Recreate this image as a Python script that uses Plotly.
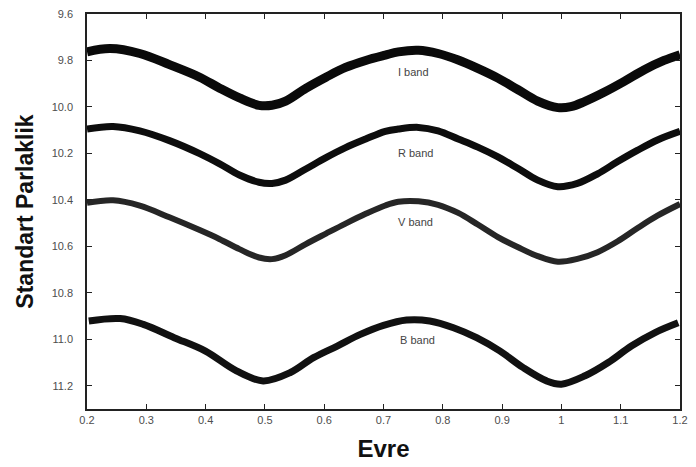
import plotly.graph_objects as go

# Phase-folded light curves (standard magnitudes) in four filters
phase_I = [0.2, 0.239, 0.289, 0.339, 0.39, 0.423, 0.457, 0.49, 0.512, 0.535, 0.569, 0.603, 0.636, 0.67, 0.703,
           0.725, 0.759, 0.792, 0.826, 0.859, 0.893, 0.927, 0.96, 0.994, 1.016, 1.039, 1.072, 1.106, 1.14, 1.173, 1.2]
mag_I = [9.763, 9.749, 9.770, 9.818, 9.872, 9.918, 9.961, 9.993, 9.993, 9.975, 9.920, 9.872, 9.830, 9.800, 9.777,
         9.763, 9.756, 9.770, 9.798, 9.834, 9.876, 9.926, 9.975, 10.003, 9.999, 9.977, 9.937, 9.890, 9.840, 9.800, 9.775]

phase_R = [0.2, 0.244, 0.289, 0.339, 0.39, 0.423, 0.457, 0.49, 0.512, 0.535, 0.569, 0.603, 0.636, 0.67, 0.703,
           0.725, 0.759, 0.792, 0.826, 0.859, 0.893, 0.927, 0.96, 0.994, 1.027, 1.061, 1.095, 1.128, 1.162, 1.2]
mag_R = [10.095, 10.084, 10.103, 10.145, 10.201, 10.244, 10.293, 10.324, 10.329, 10.315, 10.267, 10.218, 10.175,
         10.138, 10.105, 10.095, 10.088, 10.103, 10.138, 10.173, 10.215, 10.265, 10.315, 10.343, 10.329, 10.288,
         10.235, 10.187, 10.142, 10.105]

phase_V = [0.2, 0.244, 0.289, 0.339, 0.39, 0.423, 0.457, 0.49, 0.512, 0.535, 0.569, 0.603, 0.636, 0.67, 0.703,
           0.725, 0.759, 0.792, 0.826, 0.859, 0.893, 0.927, 0.96, 0.994, 1.027, 1.061, 1.095, 1.128, 1.162, 1.2]
mag_V = [10.413, 10.402, 10.425, 10.475, 10.530, 10.568, 10.612, 10.648, 10.655, 10.638, 10.590, 10.545, 10.502,
         10.460, 10.424, 10.408, 10.406, 10.421, 10.456, 10.506, 10.560, 10.604, 10.642, 10.666, 10.654, 10.625,
         10.578, 10.522, 10.468, 10.418]

phase_B = [0.203, 0.256, 0.295, 0.347, 0.399, 0.452, 0.497, 0.543, 0.582, 0.622, 0.661, 0.7, 0.739, 0.778, 0.818,
           0.857, 0.896, 0.935, 0.975, 1.0, 1.04, 1.079, 1.118, 1.158, 1.197]
mag_B = [10.921, 10.911, 10.936, 10.993, 11.05, 11.136, 11.179, 11.143, 11.079, 11.029, 10.979, 10.94, 10.917,
         10.921, 10.95, 10.993, 11.05, 11.121, 11.179, 11.193, 11.157, 11.1, 11.029, 10.971, 10.929]

band_names = ["I band", "R band", "V band", "B band"]
label_phase = [0.750, 0.754, 0.754, 0.757]
label_mag = [9.849, 10.197, 10.494, 11.003]

x_ticks = [0.2, 0.3, 0.4, 0.5, 0.6, 0.7, 0.8, 0.9, 1.0, 1.1, 1.2]
x_tick_text = ["0.2", "0.3", "0.4", "0.5", "0.6", "0.7", "0.8", "0.9", "1", "1.1", "1.2"]
y_ticks = [9.6, 9.8, 10.0, 10.2, 10.4, 10.6, 10.8, 11.0, 11.2]
y_tick_text = ["9.6", "9.8", "10.0", "10.2", "10.4", "10.6", "10.8", "11.0", "11.2"]

series = [(phase_I, mag_I, 9, "#0a0a0a"),
          (phase_R, mag_R, 7, "#0d0d0d"),
          (phase_V, mag_V, 6, "#262626"),
          (phase_B, mag_B, 7, "#111111")]

fig = go.Figure()
for (ph, mg, w, c), name in zip(series, band_names):
    fig.add_trace(go.Scatter(x=ph, y=mg, mode="lines", name=name,
                             line=dict(color=c, width=w, shape="spline", smoothing=1.0)))

for name, lx, ly in zip(band_names, label_phase, label_mag):
    fig.add_annotation(x=lx, y=ly, text=name, showarrow=False,
                       font=dict(family="Liberation Sans, Arial", size=11, color="#444444"))

axis_common = dict(showgrid=False, zeroline=False, showline=True, linecolor="#222222", linewidth=1.5,
                   mirror="ticks", ticks="inside", ticklen=5, tickwidth=1.2, tickcolor="#222222",
                   tickfont=dict(family="Liberation Sans, Arial", size=11, color="#4d4d4d"))

fig.update_xaxes(range=[0.2, 1.2], tickvals=x_ticks, ticktext=x_tick_text,
                 title=dict(text="<b>Evre</b>", standoff=15,
                            font=dict(family="Liberation Sans, Arial", size=24, color="#111111")),
                 **axis_common)
fig.update_yaxes(range=[11.3, 9.6], tickvals=y_ticks, ticktext=y_tick_text, ticklabelstandoff=10,
                 title=dict(text="<b>Standart Parlaklik</b>", standoff=12,
                            font=dict(family="Liberation Sans, Arial", size=23, color="#111111")),
                 **axis_common)

fig.update_layout(width=696, height=467, showlegend=False,
                  margin=dict(l=87, r=13, t=8, b=58),
                  paper_bgcolor="white", plot_bgcolor="white")

fig.write_html("out.html")
